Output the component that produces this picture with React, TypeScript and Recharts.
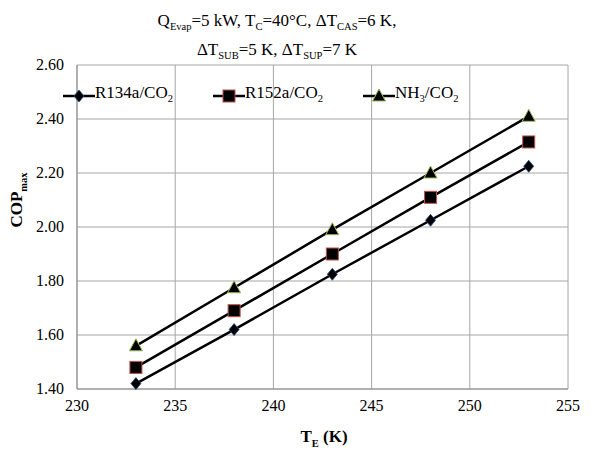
import React from "react";
import { CartesianGrid, Line, LineChart, XAxis, YAxis } from "recharts";

const temps = [233, 238, 243, 248, 253];
const r134a = [1.42, 1.62, 1.825, 2.025, 2.225];
const r152a = [1.48, 1.69, 1.9, 2.11, 2.315];
const nh3 = [1.56, 1.775, 1.99, 2.2, 2.41];
const xTicks = [230, 235, 240, 245, 250, 255];
const yTicks = [1.4, 1.6, 1.8, 2.0, 2.2, 2.4, 2.6];

const data = temps.map((t, i) => ({ t, r134a: r134a[i], r152a: r152a[i], nh3: nh3[i] }));

const FONT = "Liberation Serif";

type Kind = "diamond" | "square" | "triangle";

const series: { key: string; name: string; kind: Kind }[] = [
  { key: "r134a", name: "R134a/CO_2", kind: "diamond" },
  { key: "r152a", name: "R152a/CO_2", kind: "square" },
  { key: "nh3", name: "NH_3/CO_2", kind: "triangle" },
];

function marker(kind: Kind, cx: number, cy: number, key?: string) {
  if (kind === "diamond") {
    return (
      <path
        key={key}
        d={`M${cx},${cy - 6} L${cx + 5},${cy} L${cx},${cy + 6} L${cx - 5},${cy} Z`}
        fill="#000"
        stroke="#1f497d"
        strokeWidth={0.8}
      />
    );
  }
  if (kind === "square") {
    return (
      <rect key={key} x={cx - 6} y={cy - 6} width={12} height={12} fill="#000" stroke="#c0504d" strokeWidth={1} />
    );
  }
  return (
    <path
      key={key}
      d={`M${cx},${cy - 7} L${cx + 6.5},${cy + 5} L${cx - 6.5},${cy + 5} Z`}
      fill="#000"
      stroke="#9bbb59"
      strokeWidth={1}
    />
  );
}

function withSubs(text: string) {
  const parts = text.split(/_(\w)/);
  return parts.map((p, i) => (i % 2 === 1 ? <sub key={i} style={{ fontSize: "0.62em" }}>{p}</sub> : <span key={i}>{p}</span>));
}

function XTick({ x, y, payload }: any) {
  return (
    <text x={x} y={y + 16} textAnchor="middle" fill="#000" style={{ fontFamily: FONT, fontSize: 16 }}>
      {payload.value}
    </text>
  );
}

function YTick({ x, y, payload }: any) {
  return (
    <text x={x} y={y + 5} textAnchor="end" fill="#000" style={{ fontFamily: FONT, fontSize: 16 }}>
      {Number(payload.value).toFixed(2)}
    </text>
  );
}

function ChartLegend() {
  return (
    <div
      style={{
        position: "absolute",
        left: 63,
        top: 84,
        display: "flex",
        alignItems: "center",
        fontFamily: FONT,
        fontSize: 17,
        color: "#000",
        zIndex: 2,
      }}
    >
      {series.map((s) => (
        <div key={s.key} style={{ display: "flex", alignItems: "center", marginRight: 40 }}>
          <svg width={32} height={16}>
            <line x1={0} y1={8} x2={32} y2={8} stroke="#000" strokeWidth={2.5} />
            {marker(s.kind, 16, 8)}
          </svg>
          <span style={{ lineHeight: "18px" }}>{withSubs(s.name)}</span>
        </div>
      ))}
    </div>
  );
}

const sub = { fontSize: "0.62em" };

export default function App() {
  return (
    <div style={{ position: "absolute", left: 0, top: 0, width: 598, height: 452, background: "#fff", fontFamily: FONT }}>
      <div
        style={{
          position: "absolute",
          left: 3,
          top: 9,
          width: 548,
          textAlign: "center",
          fontSize: 17,
          lineHeight: "23px",
          color: "#000",
        }}
      >
        <div>
          Q<sub style={sub}>Evap</sub>=5 kW, T<sub style={sub}>C</sub>=40°C, ΔT<sub style={sub}>CAS</sub>=6 K,
        </div>
        <div>
          ΔT<sub style={sub}>SUB</sub>=5 K, ΔT<sub style={sub}>SUP</sub>=7 K
        </div>
      </div>
      <div
        style={{
          position: "absolute",
          left: 18,
          top: 200,
          transform: "translate(-50%, -50%) rotate(-90deg)",
          fontSize: 17,
          fontWeight: "bold",
          whiteSpace: "nowrap",
        }}
      >
        COP<sub style={sub}>max</sub>
      </div>
      <div
        style={{
          position: "absolute",
          left: 324,
          top: 438,
          transform: "translate(-50%, -50%)",
          fontSize: 17,
          fontWeight: "bold",
          whiteSpace: "nowrap",
        }}
      >
        T<sub style={sub}>E</sub> (K)
      </div>
      <ChartLegend />
      <LineChart width={598} height={452} data={data} margin={{ top: 65, right: 30, bottom: 23, left: 0 }}>
        <CartesianGrid stroke="#a6a6a6" strokeWidth={1} />
        <XAxis
          dataKey="t"
          type="number"
          domain={[230, 255]}
          ticks={xTicks}
          height={40}
          tickSize={0}
          tickMargin={6}
          tickLine={false}
          axisLine={{ stroke: "#8c8c8c" }}
          tick={<XTick />}
        />
        <YAxis
          type="number"
          domain={[1.4, 2.6]}
          ticks={yTicks}
          width={77}
          tickSize={0}
          tickMargin={13}
          tickLine={false}
          axisLine={{ stroke: "#8c8c8c" }}
          tick={<YTick />}
        />
        {series.map((s) => (
          <Line
            key={s.key}
            dataKey={s.key}
            name={s.name}
            type="linear"
            stroke="#000"
            strokeWidth={2.5}
            isAnimationActive={false}
            dot={(p: any) => marker(s.kind, p.cx, p.cy, `${s.key}-${p.index}`)}
            activeDot={false}
          />
        ))}
      </LineChart>
    </div>
  );
}
